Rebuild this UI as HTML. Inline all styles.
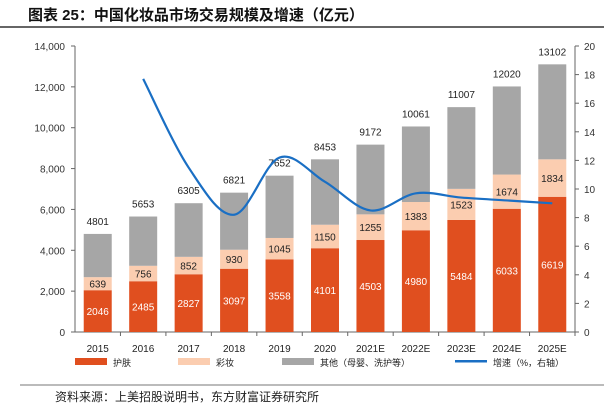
<!DOCTYPE html>
<html><head><meta charset="utf-8"><style>
body{margin:0;background:#fff;width:604px;height:406px;overflow:hidden;font-family:"Liberation Sans","Noto Sans CJK SC",sans-serif}
</style></head><body>
<svg width="604" height="406" font-family="Liberation Sans, Noto Sans CJK SC, sans-serif">
<text x="28" y="20" font-size="15" font-weight="bold" fill="#111">图表 25：中国化妆品市场交易规模及增速（亿元）</text>
<line x1="0" y1="27" x2="604" y2="27" stroke="#333" stroke-width="1.5"/>
<g id="plot"></g>
<line x1="20" y1="385" x2="604" y2="385" stroke="#777" stroke-width="1"/>
<text x="55" y="401" font-size="12" fill="#222">资料来源：上美招股说明书，东方财富证券研究所</text>
</svg>
<script>
const years=["2015","2016","2017","2018","2019","2020","2021E","2022E","2023E","2024E","2025E"];
const skincare=[2046,2485,2827,3097,3558,4101,4503,4980,5484,6033,6619];
const makeup=[639,756,852,930,1045,1150,1255,1383,1523,1674,1834];
const totals=[4801,5653,6305,6821,7652,8453,9172,10061,11007,12020,13102];
const growth=[null,17.7,11.5,8.2,12.2,10.5,8.5,9.7,9.4,9.2,9.0];
const leftTicks=[0,2000,4000,6000,8000,10000,12000,14000];
const rightTicks=[0,2,4,6,8,10,12,14,16,18,20];
const NS="http://www.w3.org/2000/svg";
const g=document.getElementById('plot');
const X0=75,X1=575,Y0=332,Y1=46;
const yL=v=>Y0-(v/14000)*(Y0-Y1);
const yR=v=>Y0-(v/20)*(Y0-Y1);
const step=(X1-X0)/years.length;
const xc=i=>X0+step*(i+0.5);
const bw=28;
function mk(t,a,txt){const e=document.createElementNS(NS,t);for(const k in a)e.setAttribute(k,a[k]);if(txt!=null)e.textContent=txt;g.appendChild(e);return e;}
let e;
e=mk('line',{x1:X0,y1:Y1,x2:X0,y2:Y0,stroke:'#666'});


e=mk('line',{x1:X1,y1:Y1,x2:X1,y2:Y0,stroke:'#666'});


e=mk('line',{x1:X0,y1:Y0,x2:X1,y2:Y0,stroke:'#666'});


leftTicks.forEach(v=>{
 e=mk('line',{x1:X0-4,y1:yL(v),x2:X0,y2:yL(v),stroke:'#666'});
 
 
 e=mk('text',{x:X0-10,y:yL(v)+4,'font-size':10,'text-anchor':'end',fill:'#333'},v.toLocaleString('en-US'));
 
 
});
rightTicks.forEach(v=>{
 e=mk('line',{x1:X1,y1:yR(v),x2:X1+4,y2:yR(v),stroke:'#666'});
 
 
 e=mk('text',{x:X1+9,y:yR(v)+4,'font-size':10,fill:'#333'},String(v));
 
 
});
years.forEach((y,i)=>{
 const x=xc(i)-bw/2;
 const s=skincare[i],m=makeup[i],t=totals[i];
 e=mk('rect',{x:x,y:yL(s),width:bw,height:Y0-yL(s),fill:'#E04F1F'});
 
 
 e=mk('rect',{x:x,y:yL(s+m),width:bw,height:yL(s)-yL(s+m),fill:'#FBCDB0'});
 
 
 e=mk('rect',{x:x,y:yL(t),width:bw,height:yL(s+m)-yL(t),fill:'#A6A6A6'});
 
 
 e=mk('text',{x:xc(i),y:yL(s/2)+4,'font-size':10,'text-anchor':'middle',fill:'#fff'},String(s));
 
 
 e=mk('text',{x:xc(i),y:yL(s+m/2)+4,'font-size':10,'text-anchor':'middle',fill:'#222'},String(m));
 
 
 e=mk('text',{x:xc(i),y:yL(t)-9,'font-size':10,'text-anchor':'middle',fill:'#222'},String(t));
 
 
 e=mk('text',{x:xc(i),y:Y0+20,'font-size':10,'text-anchor':'middle',fill:'#222'},y);
 
 
 e=mk('line',{x1:X0+step*(i+1),y1:Y0,x2:X0+step*(i+1),y2:Y0+4,stroke:'#666'});
 
 
});
const pts=[];growth.forEach((v,i)=>{if(v!=null)pts.push([xc(i),yR(v)]);});
let d='M'+pts[0][0]+','+pts[0][1];
for(let i=0;i<pts.length-1;i++){
 const p0=pts[i-1]||pts[i],p1=pts[i],p2=pts[i+1],p3=pts[i+2]||p2;
 const c1=[p1[0]+(p2[0]-p0[0])/6,p1[1]+(p2[1]-p0[1])/6],c2=[p2[0]-(p3[0]-p1[0])/6,p2[1]-(p3[1]-p1[1])/6];
 d+=` C${c1[0]},${c1[1]} ${c2[0]},${c2[1]} ${p2[0]},${p2[1]}`;
}
e=mk('path',{d:d,fill:'none',stroke:'#1A6FC4','stroke-width':2.2});


const leg=[['rect','#E04F1F','护肤',75],['rect','#FBCDB0','彩妆',178],['rect','#A6A6A6','其他（母婴、洗护等）',282],['line','#1A6FC4','增速（%，右轴）',455]];
leg.forEach(l=>{
 if(l[0]=='rect'){e=mk('rect',{x:l[3],y:358,width:32,height:7,fill:l[1]});}
 else{e=mk('rect',{x:l[3],y:360,width:32,height:2.5,fill:l[1]});}
 
 
 e=mk('text',{x:l[3]+38,y:366,'font-size':9,fill:'#222'},l[2]);
 
 
});
</script>
</body></html>
